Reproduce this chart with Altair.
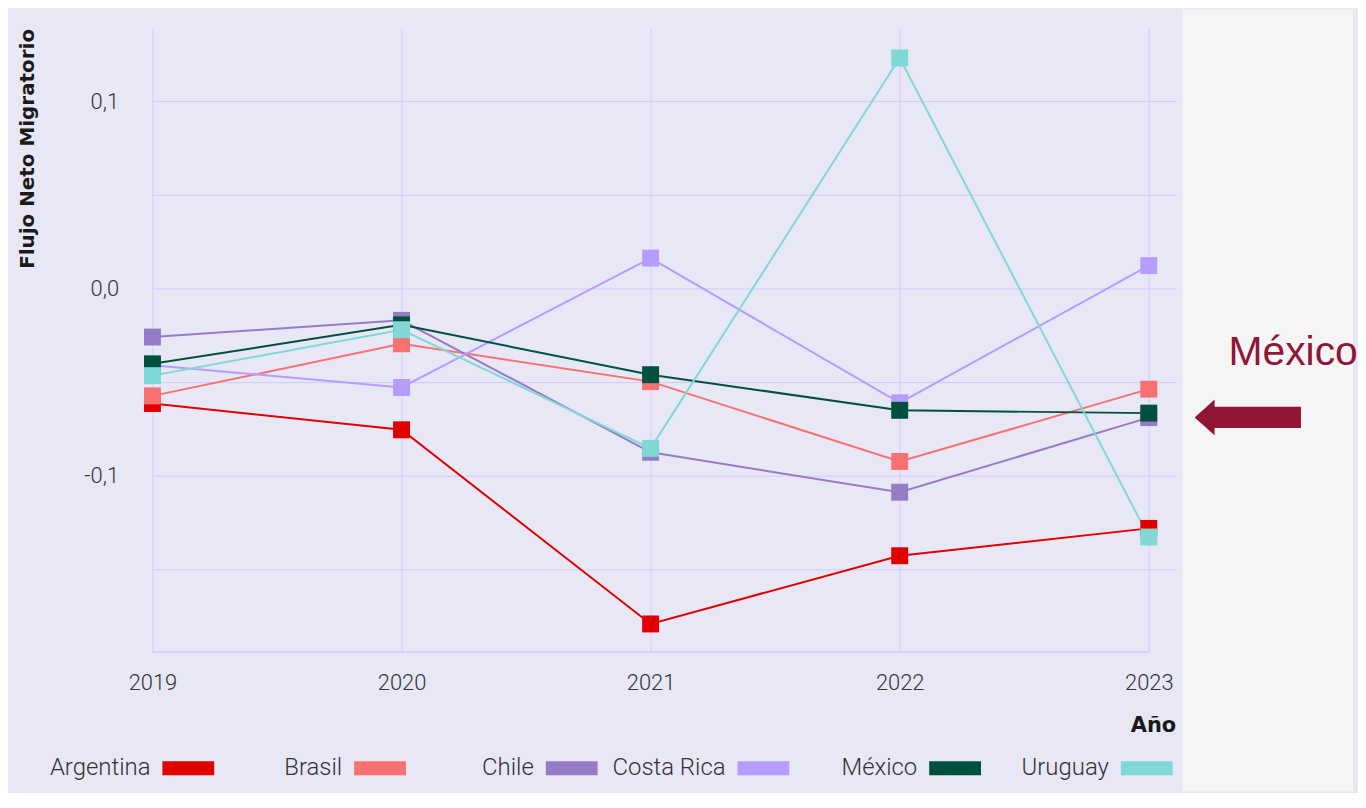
import altair as alt
import pandas as pd

# ---------------- data ----------------
years = [2019, 2020, 2021, 2022, 2023]
countries = ["Argentina", "Brasil", "Chile", "Costa Rica", "México", "Uruguay"]
colors = ["#E00000", "#F87171", "#967BC6", "#B79CFF", "#00503F", "#7FD8D5"]

argentina = [-0.0614, -0.0754, -0.179, -0.1426, -0.128]
brasil = [-0.0573, -0.0295, -0.0497, -0.0923, -0.0537]
chile = [-0.0259, -0.017, -0.0874, -0.1087, -0.0689]
costa_rica = [-0.041, -0.0528, 0.0162, -0.061, 0.0122]
mexico = [-0.0402, -0.0194, -0.046, -0.065, -0.0665]
uruguay = [-0.0465, -0.022, -0.0853, 0.123, -0.1326]

y_ticks = [-0.15, -0.1, -0.05, 0.0, 0.05, 0.1]
y_domain = [-0.194, 0.1388]
x_domain = [2019, 2023.108]

series = [argentina, brasil, chile, costa_rica, mexico, uruguay]
rows = []
for i, (c, vals) in enumerate(zip(countries, series)):
    for yr, v in zip(years, vals):
        rows.append({"pais": c, "anio": yr, "flujo": v, "orden": i})
df = pd.DataFrame(rows)
legend_df = pd.DataFrame({"pais": countries})
one = pd.DataFrame({"k": [0]})

# ---------------- styles ----------------
W, H = 1027, 626
LAVENDER = "#E8E7F6"
GRAY = "#F5F5F6"
GRID = "#D1CAFF"
TXT = "#333333"
FONT = "Roboto"
TFONT = "DejaVu Sans"
MAROON = "#901536"

color_scale = alt.Scale(domain=countries, range=colors)
xs = alt.Scale(domain=x_domain, nice=False, zero=False)
ys = alt.Scale(domain=y_domain, nice=False, zero=False)

x_enc = alt.X("anio:Q", scale=xs, axis=alt.Axis(
    values=years, format="d", title="Año", grid=True, gridColor=GRID,
    domain=False, ticks=False, labelPadding=21, labelFont=FONT,
    labelFontSize=22, labelFontWeight=300, labelColor=TXT,
    titleFont=TFONT, titleFontSize=21, titleFontWeight="bold", titleColor="#1a1a1a",
    titleAnchor="end", titlePadding=21, labelFlush=False, zindex=0))
y_enc = alt.Y("flujo:Q", scale=ys, axis=alt.Axis(
    values=y_ticks, title="Flujo Neto Migratorio", grid=True, gridColor=GRID,
    domain=False, ticks=False, labelPadding=34, labelFont=FONT,
    labelFontSize=22, labelFontWeight=300, labelColor=TXT,
    labelExpr="abs(datum.value) < 1e-9 ? '0,0' : (abs(abs(datum.value) - 0.1) < 1e-9 ? (datum.value < 0 ? '-0,1' : '0,1') : '')",
    titleFont=TFONT, titleFontSize=20, titleFontWeight="bold", titleColor="#1a1a1a",
    titleAnchor="end", titlePadding=46, zindex=0))

base = alt.Chart(df)

lines = base.mark_line(strokeWidth=2).encode(
    x=x_enc, y=y_enc,
    color=alt.Color("pais:N", scale=color_scale, legend=None),
    order=alt.Order("anio:Q"),
)
points = base.mark_square(size=289, opacity=1).encode(
    x="anio:Q", y="flujo:Q",
    color=alt.Color("pais:N", scale=color_scale, legend=None),
)
bottom_line = alt.Chart(one).mark_rule(color=GRID, strokeWidth=1.5).encode(
    x=alt.datum(years[0]), x2=alt.datum(years[-1]), y=alt.datum(y_domain[0])
)

# layout anchors / background strip outside the lavender panel
left_anchor = alt.Chart(one).mark_rect(color=LAVENDER).encode(
    x=alt.value(-141), x2=alt.value(-138), y=alt.value(-19), y2=alt.value(766))
right_strip = alt.Chart(one).mark_rect(color=GRAY).encode(
    x=alt.value(1034), x2=alt.value(1205), y=alt.value(-19), y2=alt.value(766))

ARROW = "M-1,0 L-0.625,-0.337 L-0.625,-0.2 L1,-0.2 L1,0.2 L-0.625,0.2 L-0.625,0.337 Z"
arrow = alt.Chart(one).mark_point(shape=ARROW, filled=True, size=11385,
                                  color=MAROON, opacity=1, strokeWidth=0).encode(
    x=alt.value(1099.4), y=alt.value(390.5))
note = alt.Chart(one).mark_text(text="México", font="Liberation Sans", fontSize=41,
                                color=MAROON, align="left", baseline="alphabetic").encode(
    x=alt.value(1080), y=alt.value(338))

main = alt.layer(right_strip, left_anchor, bottom_line, lines, points, arrow, note)

# custom legend (labels right-aligned before their swatch)
LEG_RECT = "M-2,-0.27 L0,-0.27 L0,0.27 L-2,0.27 Z"
leg_x = alt.X("pais:N", scale=alt.Scale(domain=countries, range=[62, 1024], padding=0), axis=None)
leg_sym = alt.Chart(legend_df).mark_point(shape=LEG_RECT, filled=True, size=2704,
                                          opacity=1, strokeWidth=0).encode(
    x=leg_x, y=alt.value(742.7),
    color=alt.Color("pais:N", scale=color_scale, legend=None))
leg_txt = alt.Chart(legend_df).mark_text(align="right", baseline="middle", dx=-64,
                                         font=FONT, fontSize=24, fontWeight=300,
                                         color=TXT).encode(
    x=leg_x, y=alt.value(742.7), text="pais:N")
legend = alt.layer(leg_sym, leg_txt)

chart = alt.layer(main, legend).resolve_scale(x="independent").properties(
    width=W, height=H, background=LAVENDER,
    padding={"left": 4, "top": 0, "right": 0, "bottom": 0}
).configure_view(stroke=None)

chart.save("out.html", embed_options={"renderer": "svg", "actions": False})
